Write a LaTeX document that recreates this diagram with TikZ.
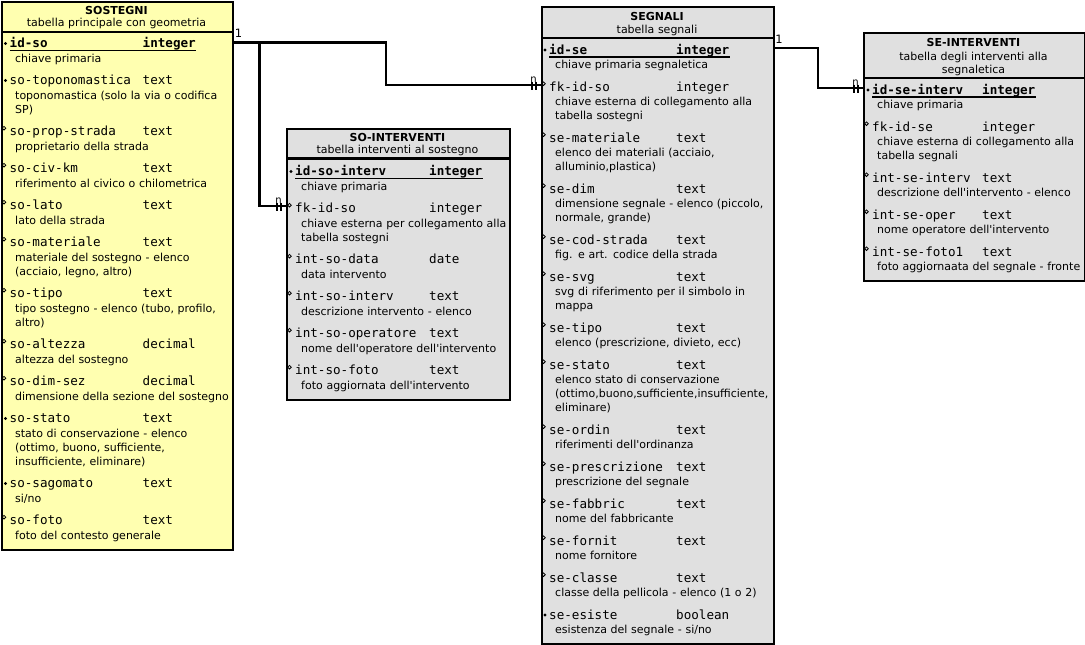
\documentclass[tikz,border=0pt]{standalone}
\usepackage{fontspec}
\setmainfont{DejaVu Sans}
\setmonofont{DejaVu Sans Mono}
\usepackage{tikz}
\definecolor{giallo}{RGB}{255,255,176}
\definecolor{grigio}{RGB}{224,224,224}
\newcommand{\campo}[3]{\makebox[#1pt][l]{#2}#3}

\begin{document}
\begin{tikzpicture}[x=1pt,y=-1pt]
        \tikzstyle{tabella}=[draw,line width=2.1pt,anchor=north west,inner sep=0pt]
        \tikzstyle{titolo}=[anchor=base,inner sep=0pt,font=\fontsize{11}{13}\selectfont\bfseries]
        \tikzstyle{sottotitolo}=[anchor=base,inner sep=0pt,text width=215pt,align=center,font=\fontsize{11}{13.5}\selectfont]
        \tikzstyle{nome}=[anchor=base west,inner sep=0pt,font=\ttfamily\fontsize{12.6}{14}\selectfont]
        \tikzstyle{chiave}=[nome,font=\ttfamily\bfseries\fontsize{12.6}{14}\selectfont]
        \tikzstyle{descr}=[anchor=base west,inner sep=0pt,text width=230pt,align=left,font=\fontsize{11}{14}\selectfont]
        \tikzstyle{linea}=[line width=2.1pt]
        \tikzstyle{barra}=[line width=1.5pt]
        \tikzstyle{molti}=[anchor=base,inner sep=0pt,font=\fontsize{10}{10}\selectfont]
        \tikzstyle{uno}=[anchor=base,inner sep=0pt,font=\fontsize{11.5}{12}\selectfont]
            \useasboundingbox (0,0) rectangle (1085,645);

            \node[tabella,fill=giallo,minimum width=231pt,minimum height=548pt] (sostegni) at (1,1) {};
            \node[tabella,fill=grigio,minimum width=223pt,minimum height=271pt] (sointerventi) at (286,127.5) {};
            \node[tabella,fill=grigio,minimum width=232pt,minimum height=637pt] (segnali) at (541,6) {};
            \node[tabella,fill=grigio,minimum width=221pt,minimum height=248pt] (seinterventi) at (863,32) {};

            \draw[linea] (sostegni.west |- 0,32) -- (sostegni.east |- 0,32)
            (sointerventi.west |- 0,158.5) -- (sointerventi.east |- 0,158.5)
            (segnali.west |- 0,38) -- (segnali.east |- 0,38)
            (seinterventi.west |- 0,78) -- (seinterventi.east |- 0,78)
            ;

            \node[titolo] (t1) at (116.5,15) {SOSTEGNI};
            \node[sottotitolo] (st1) at (116.5,27) {tabella principale con geometria};
            \node[titolo] (t2) at (397.5,141) {SO-INTERVENTI};
            \node[sottotitolo] (st2) at (397.5,153.5) {tabella interventi al sostegno};
            \node[titolo] (t3) at (657,20.5) {SEGNALI};
            \node[sottotitolo] (st3) at (657,33) {tabella segnali};
            \node[titolo] (t4) at (973.5,46.5) {SE-INTERVENTI};
            \node[sottotitolo] (st4) at (973.5,60) {tabella degli interventi alla\\segnaletica};

            \node[chiave] (so1) at (9.5,47.5) {\campo{133}{id-so}{integer}};
            \node[descr] (so1d) at (15,62) {chiave primaria};
            \node[nome] (so2) at (9.5,84.5) {\campo{133}{so-toponomastica}{text}};
            \node[descr] (so2d) at (15,99) {toponomastica (solo la via o codifica\\SP)};
            \node[nome] (so3) at (9.5,135.5) {\campo{133}{so-prop-strada}{text}};
            \node[descr] (so3d) at (15,150) {proprietario della strada};
            \node[nome] (so4) at (9.5,172.5) {\campo{133}{so-civ-km}{text}};
            \node[descr] (so4d) at (15,187) {riferimento al civico o chilometrica};
            \node[nome] (so5) at (9.5,209.5) {\campo{133}{so-lato}{text}};
            \node[descr] (so5d) at (15,224) {lato della strada};
            \node[nome] (so6) at (9.5,246.5) {\campo{133}{so-materiale}{text}};
            \node[descr] (so6d) at (15,261) {materiale del sostegno - elenco\\(acciaio, legno, altro)};
            \node[nome] (so7) at (9.5,297.5) {\campo{133}{so-tipo}{text}};
            \node[descr] (so7d) at (15,312) {tipo sostegno - elenco (tubo, profilo,\\altro)};
            \node[nome] (so8) at (9.5,348.5) {\campo{133}{so-altezza}{decimal}};
            \node[descr] (so8d) at (15,363) {altezza del sostegno};
            \node[nome] (so9) at (9.5,385.5) {\campo{133}{so-dim-sez}{decimal}};
            \node[descr] (so9d) at (15,400) {dimensione della sezione del sostegno};
            \node[nome] (so10) at (9.5,422.5) {\campo{133}{so-stato}{text}};
            \node[descr] (so10d) at (15,437) {stato di conservazione - elenco\\(ottimo, buono, sufficiente,\\insufficiente, eliminare)};
            \node[nome] (so11) at (9.5,487.5) {\campo{133}{so-sagomato}{text}};
            \node[descr] (so11d) at (15,502) {si/no};
            \node[nome] (so12) at (9.5,524.5) {\campo{133}{so-foto}{text}};
            \node[descr] (so12d) at (15,539) {foto del contesto generale};

            \node[chiave] (si1) at (295,175.5) {\campo{134}{id-so-interv}{integer}};
            \node[descr] (si1d) at (301,190) {chiave primaria};
            \node[nome] (si2) at (295,212.5) {\campo{134}{fk-id-so}{integer}};
            \node[descr] (si2d) at (301,227) {chiave esterna per collegamento alla\\tabella sostegni};
            \node[nome] (si3) at (295,263.5) {\campo{134}{int-so-data}{date}};
            \node[descr] (si3d) at (301,278) {data intervento};
            \node[nome] (si4) at (295,300.5) {\campo{134}{int-so-interv}{text}};
            \node[descr] (si4d) at (301,315) {descrizione intervento - elenco};
            \node[nome] (si5) at (295,337.5) {\campo{134}{int-so-operatore}{text}};
            \node[descr] (si5d) at (301,352) {nome dell\textquotesingle operatore dell\textquotesingle intervento};
            \node[nome] (si6) at (295,374.5) {\campo{134}{int-so-foto}{text}};
            \node[descr] (si6d) at (301,389) {foto aggiornata dell\textquotesingle intervento};

            \node[chiave] (se1) at (549,54) {\campo{127}{id-se}{integer}};
            \node[descr] (se1d) at (555,68.5) {chiave primaria segnaletica};
            \node[nome] (se2) at (549,91) {\campo{127}{fk-id-so}{integer}};
            \node[descr] (se2d) at (555,105.5) {chiave esterna di collegamento alla\\tabella sostegni};
            \node[nome] (se3) at (549,142) {\campo{127}{se-materiale}{text}};
            \node[descr] (se3d) at (555,156.5) {elenco dei materiali (acciaio,\\alluminio,plastica)};
            \node[nome] (se4) at (549,193) {\campo{127}{se-dim}{text}};
            \node[descr] (se4d) at (555,207.5) {dimensione segnale - elenco (piccolo,\\normale, grande)};
            \node[nome] (se5) at (549,244) {\campo{127}{se-cod-strada}{text}};
            \node[descr] (se5d) at (555,258.5) {fig. e art. codice della strada};
            \node[nome] (se6) at (549,281) {\campo{127}{se-svg}{text}};
            \node[descr] (se6d) at (555,295.5) {svg di riferimento per il simbolo in\\mappa};
            \node[nome] (se7) at (549,332) {\campo{127}{se-tipo}{text}};
            \node[descr] (se7d) at (555,346.5) {elenco (prescrizione, divieto, ecc)};
            \node[nome] (se8) at (549,369) {\campo{127}{se-stato}{text}};
            \node[descr] (se8d) at (555,383.5) {elenco stato di conservazione\\(ottimo,buono,sufficiente,insufficiente,\\eliminare)};
            \node[nome] (se9) at (549,434) {\campo{127}{se-ordin}{text}};
            \node[descr] (se9d) at (555,448.5) {riferimenti dell\textquotesingle ordinanza};
            \node[nome] (se10) at (549,471) {\campo{127}{se-prescrizione}{text}};
            \node[descr] (se10d) at (555,485.5) {prescrizione del segnale};
            \node[nome] (se11) at (549,508) {\campo{127}{se-fabbric}{text}};
            \node[descr] (se11d) at (555,522.5) {nome del fabbricante};
            \node[nome] (se12) at (549,545) {\campo{127}{se-fornit}{text}};
            \node[descr] (se12d) at (555,559.5) {nome fornitore};
            \node[nome] (se13) at (549,582) {\campo{127}{se-classe}{text}};
            \node[descr] (se13d) at (555,596.5) {classe della pellicola - elenco (1 o 2)};
            \node[nome] (se14) at (549,619) {\campo{127}{se-esiste}{boolean}};
            \node[descr] (se14d) at (555,633.5) {esistenza del segnale - si/no};

            \node[chiave] (sx1) at (872,94) {\campo{110}{id-se-interv}{integer}};
            \node[descr] (sx1d) at (877,108.5) {chiave primaria};
            \node[nome] (sx2) at (872,131) {\campo{110}{fk-id-se}{integer}};
            \node[descr] (sx2d) at (877,145.5) {chiave esterna di collegamento alla\\tabella segnali};
            \node[nome] (sx3) at (872,182) {\campo{110}{int-se-interv}{text}};
            \node[descr] (sx3d) at (877,196.5) {descrizione dell\textquotesingle intervento - elenco};
            \node[nome] (sx4) at (872,219) {\campo{110}{int-se-oper}{text}};
            \node[descr] (sx4d) at (877,233.5) {nome operatore dell\textquotesingle intervento};
            \node[nome] (sx5) at (872,256) {\campo{110}{int-se-foto1}{text}};
            \node[descr] (sx5d) at (877,270.5) {foto aggiornaata del segnale - fronte};

            \draw[line width=1.2pt] ([yshift=-3pt]so1.base west) -- ([yshift=-3pt]so1.base east)
            ([yshift=-3pt]si1.base west) -- ([yshift=-3pt]si1.base east)
            ([yshift=-3pt]se1.base west) -- ([yshift=-3pt]se1.base east)
            ([yshift=-3pt]sx1.base west) -- ([yshift=-3pt]sx1.base east)
            ;

            \foreach \n in {so1,so2,so10,so11,si1,se1,se14,sx1}
                \fill ([xshift=-4pt,yshift=4pt]\n.base west) circle (1.6pt);
            \foreach \n in {so3,so4,so5,so6,so7,so8,so9,so12,si2,si3,si4,si5,si6,se2,se3,se4,se5,se6,se7,se8,se9,se10,se11,se12,se13,sx2,sx3,sx4,sx5}
                \draw[line width=0.8pt] ([xshift=-5.5pt,yshift=7.3pt]\n.base west) circle (1.8pt);

            \coordinate (k1) at (386,42.5);
            \coordinate (k2) at (386,85);
            \coordinate (k3) at (259.5,42.5);
            \coordinate (k4) at (259.5,206);
            \coordinate (k5) at (818,48);
            \coordinate (k6) at (818,88);
            \coordinate (m1) at (segnali.west |- k2);
            \coordinate (m2) at (sointerventi.west |- k4);
            \coordinate (m3) at (seinterventi.west |- k6);

            \draw[linea] (sostegni.east |- k1) -- (k1) -- (k2) -- (m1)
            (k3) -- (k4) -- (m2)
            (segnali.east |- k5) -- (k5) -- (k6) -- (m3)
            ;
            \draw[barra] (m1) ++(-9,-3.5) -- ++(0,8) ++(4,-8) -- ++(0,8)
            (m2) ++(-9,-3.5) -- ++(0,8) ++(4,-8) -- ++(0,8)
            (m3) ++(-9,-3.5) -- ++(0,8) ++(4,-8) -- ++(0,8)
            ;

            \node[molti] (n1) at (533.5,82) {n};
            \node[molti] (n2) at (278.5,203) {n};
            \node[molti] (n3) at (855.5,85) {n};
            \node[uno] (u1) at (238.5,37) {1};
            \node[uno] (u2) at (779,43.5) {1};
        \end{tikzpicture}
\end{document}
